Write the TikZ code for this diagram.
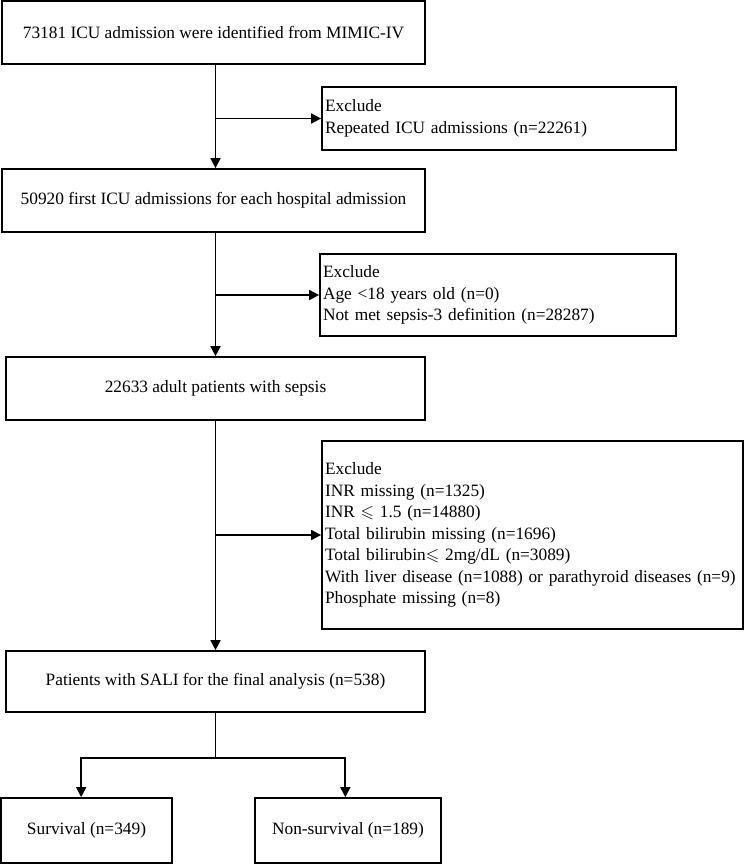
\documentclass[tikz,border=0pt]{standalone}
\usepackage{amsmath,amssymb}
\usepackage{fontspec}
\setmainfont{Liberation Serif}
\usepackage{tikz}
\usetikzlibrary{arrows.meta}

\begin{document}
\begin{tikzpicture}[x=0.75pt,y=-0.75pt,
          every node/.style={font=\fontsize{13}{16.1}\selectfont},
          box/.style={draw=black, line width=1.3pt, align=center, inner sep=2pt},
          exbox/.style={draw=black, line width=1.3pt, align=left, inner xsep=2.25pt},
          ar/.style={-{Triangle[length=7.5pt,width=7.5pt]},line width=1.3pt}]
        \useasboundingbox (0,0) rectangle (744,864);
        \coordinate (tr) at (215.5,0);
        \node[box, minimum width=317.25pt, minimum height=47.25pt]
        (b1) at (213.5,32.5) {73181 ICU admission were identified from MIMIC-IV};
        \node[exbox, text width=261pt, minimum height=47.25pt]
        (ex1) at (499,118.5) {Exclude\\Repeated ICU admissions (n=22261)};
        \node[box, minimum width=317.25pt, minimum height=47.25pt]
        (b2) at (213.5,200.5) {50920 first ICU admissions for each hospital admission};
        \node[exbox, text width=262.5pt, minimum height=61.5pt]
        (ex2) at (498,295)
        {Exclude\\Age <18 years old (n=0)\\Not met sepsis-3 definition (n=28287)};
        \node[box, minimum width=314.25pt, minimum height=47.25pt]
        (b3) at (215.5,388.5) {22633 adult patients with sepsis};
        \node[exbox, text width=311.25pt, minimum height=141pt]
        (ex3) at (532.5,535)
        {Exclude\\INR missing (n=1325)\\INR $\leqslant$ 1.5 (n=14880)\\
         Total bilirubin missing (n=1696)\\Total bilirubin$\leqslant$ 2mg/dL (n=3089)\\
         With liver disease (n=1088) or parathyroid diseases (n=9)\\Phosphate missing (n=8)};
        \node[box, minimum width=314.25pt, minimum height=45.75pt]
        (b4) at (215.5,681.5) {Patients with SALI for the final analysis (n=538)};
        \node[box, minimum width=128.25pt, minimum height=48.75pt]
        (s1) at (86.5,830.5) {Survival (n=349)};
        \node[box, minimum width=139.5pt, minimum height=48.75pt]
        (s2) at (348,830.5) {Non-survival (n=189)};
        \coordinate (split) at (215.5,758);
        \draw[ar](b1.south -| tr)--(b2.north -| tr); \draw[ar](b2.south -| tr)--(b3.north);
        \draw[ar](b3.south)--(b4.north);
        \draw[ar](ex1.west -| tr)--(ex1.west); \draw[ar](ex2.west -| tr)--(ex2.west);
        \draw[ar](ex3.west -| tr)--(ex3.west);
        \draw[line width=1.3pt](b4.south)--(split);
        \draw[ar](split)-|([xshift=-4pt]s1.north); \draw[ar](split)-|([xshift=-2pt]s2.north);
      \end{tikzpicture}
\end{document}
